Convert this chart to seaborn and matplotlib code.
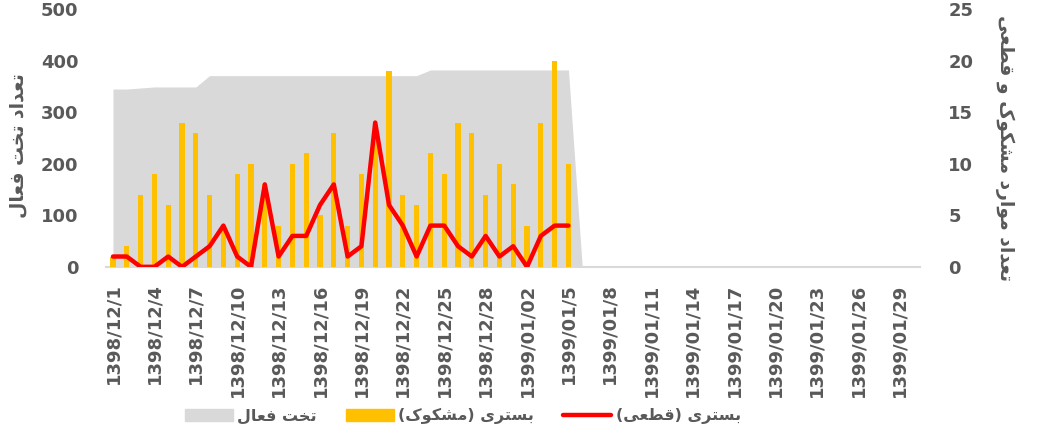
import numpy as np
import pandas as pd
import matplotlib
matplotlib.use('Agg')
import matplotlib.pyplot as plt
from matplotlib.patches import Patch
from matplotlib.lines import Line2D
import seaborn as sns

# dates: Esfand 1398 (29 days) + Farvardin 1399 (30 days)
dates = ['1398/12/%d' % d for d in range(1, 30)] + ['1399/01/02' if d == 2 else '1399/01/%d' % d for d in range(1, 31)]

# active beds (left axis), reported up to 1399/01/5 then drops to 0
active_beds = [345, 345, 347, 349, 349, 349, 349, 371, 371, 371, 371, 371, 371, 371, 371, 371,
               371, 371, 371, 371, 371, 371, 371, 382, 382, 382, 382, 382, 382, 382, 382, 382,
               382, 382, 0]

# suspected admissions (right axis)
suspected = [1, 2, 7, 9, 6, 14, 13, 7, 4, 9, 10, 8, 4, 10, 11, 5, 13, 4, 9, 13, 19, 7, 6, 11,
             9, 14, 13, 7, 10, 8, 4, 14, 20, 10]

# confirmed admissions (right axis)
confirmed = [1, 1, 0, 0, 1, 0, 1, 2, 4, 1, 0, 8, 1, 3, 3, 6, 8, 1, 2, 14, 6, 4, 1, 4, 4, 2, 1,
             3, 1, 2, 0, 3, 4, 4]

# ---- minimal Persian shaping (matplotlib has no bidi / joining) ----
FORMS = {
    'ا': ('\uFE8D', '\uFE8E'),
    'د': ('\uFEA9', '\uFEAA'),
    'ر': ('\uFEAD', '\uFEAE'),
    'و': ('\uFEED', '\uFEEE'),
    'ب': ('\uFE8F', '\uFE90', '\uFE91', '\uFE92'),
    'ت': ('\uFE95', '\uFE96', '\uFE97', '\uFE98'),
    'خ': ('\uFEA5', '\uFEA6', '\uFEA7', '\uFEA8'),
    'س': ('\uFEB1', '\uFEB2', '\uFEB3', '\uFEB4'),
    'ش': ('\uFEB5', '\uFEB6', '\uFEB7', '\uFEB8'),
    'ط': ('\uFEC1', '\uFEC2', '\uFEC3', '\uFEC4'),
    'ع': ('\uFEC9', '\uFECA', '\uFECB', '\uFECC'),
    'ف': ('\uFED1', '\uFED2', '\uFED3', '\uFED4'),
    'ق': ('\uFED5', '\uFED6', '\uFED7', '\uFED8'),
    'ل': ('\uFEDD', '\uFEDE', '\uFEDF', '\uFEE0'),
    'م': ('\uFEE1', '\uFEE2', '\uFEE3', '\uFEE4'),
    'ک': ('\uFB8E', '\uFB8F', '\uFB90', '\uFB91'),
    'ی': ('\uFEEF', '\uFEF0', '\uFEF3', '\uFEF4'),
}


def fa(text):
    out = []
    for i, c in enumerate(text):
        if c not in FORMS:
            out.append(c)
            continue
        f = FORMS[c]
        prev = text[i - 1] if i > 0 else None
        nxt = text[i + 1] if i + 1 < len(text) else None
        jp = prev in FORMS and len(FORMS[prev]) == 4
        jn = len(f) == 4 and nxt in FORMS
        if jp and jn:
            out.append(f[3])
        elif jp:
            out.append(f[1])
        elif jn:
            out.append(f[2])
        else:
            out.append(f[0])
    vis = ''.join(reversed(out))
    return vis.translate(str.maketrans('()', ')('))


sns.set_theme(style='white')
plt.rcParams['font.family'] = ['DejaVu Sans']
plt.rcParams['font.weight'] = 'bold'

GREY_TXT = '#595959'
n = len(dates)
x_all = np.arange(n)

df_bar = pd.DataFrame({'x': x_all, 'v': suspected + [np.nan] * (n - len(suspected))})
df_line = pd.DataFrame({'x': np.arange(len(confirmed)), 'v': confirmed})

fig = plt.figure(figsize=(10.4, 4.36), dpi=100)
ax = fig.add_axes([0.102, 0.388, 0.783, 0.591])
ax2 = ax.twinx()

ax.fill_between(np.arange(len(active_beds)), active_beds, 0, color='#D9D9D9', lw=0, zorder=1)

sns.barplot(data=df_bar, x='x', y='v', ax=ax2, color='#FFC000', width=0.38,
            saturation=1, native_scale=True, edgecolor='none', linewidth=0, zorder=2)
sns.lineplot(data=df_line, x='x', y='v', ax=ax2, color='#FF0000', lw=3.2,
             solid_capstyle='round', solid_joinstyle='round', zorder=3)

ax.set_xlim(-0.5, n - 0.5)
ax2.set_xlim(-0.5, n - 0.5)
ax.set_ylim(0, 500)
ax2.set_ylim(0, 25)
ax.set_yticks(range(0, 501, 100))
ax2.set_yticks(range(0, 26, 5))

ticks = list(range(0, n, 3))
ax.set_xticks(ticks)
ax.set_xticklabels([dates[i] for i in ticks], rotation=90)
ax2.set_xticks(ticks)
ax2.set_xticklabels([dates[i] for i in ticks], rotation=90)
ax2.tick_params(axis='x', bottom=False, labelbottom=False, top=False, labeltop=False)

for a in (ax, ax2):
    for s in a.spines.values():
        s.set_visible(False)
    a.set_xlabel('')
    a.grid(False)
ax.spines['bottom'].set_visible(True)
ax.spines['bottom'].set_color('#D9D9D9')
ax.spines['bottom'].set_linewidth(1.5)

ax.tick_params(axis='x', length=0, pad=12, labelsize=13, labelcolor=GREY_TXT)
ax.tick_params(axis='y', length=0, pad=20, labelsize=13, labelcolor=GREY_TXT)
ax2.tick_params(axis='y', length=0, pad=20, labelsize=13, labelcolor=GREY_TXT)
for lab in ax.get_xticklabels() + ax.get_yticklabels() + ax2.get_yticklabels():
    lab.set_fontweight('bold')

ax.set_ylabel(fa('تعداد تخت فعال'), fontsize=13.5, fontweight='bold', color=GREY_TXT)
ax.yaxis.set_label_coords(-0.097, 0.47)
ax2.set_ylabel(fa('تعداد موارد مشکوک و قطعی'), fontsize=13.5, fontweight='bold',
               color=GREY_TXT, rotation=270, va='center')
ax2.yaxis.set_label_coords(1.104, 0.46)

handles = [Patch(color='#D9D9D9'), Patch(color='#FFC000'),
           Line2D([0], [0], color='#FF0000', lw=3.2, solid_capstyle='round')]
labels = [fa('تخت فعال'), fa('بستری (مشکوک)'), fa('بستری (قطعی)')]
leg = fig.legend(handles, labels, loc='center', bbox_to_anchor=(0.445, 0.045), ncol=3,
                 frameon=False, handlelength=3.0, handleheight=0.8, handletextpad=0.3,
                 columnspacing=1.8, prop={'size': 11.5, 'weight': 'bold'})
for t in leg.get_texts():
    t.set_color(GREY_TXT)

fig.savefig('out.png', dpi=100)
